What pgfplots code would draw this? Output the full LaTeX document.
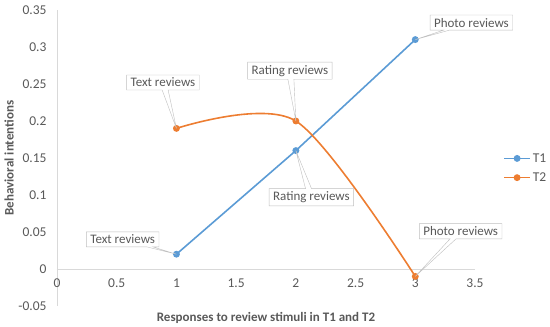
\documentclass[border=0pt]{standalone}
\usepackage{fontspec}
\setmainfont{Carlito}
\usepackage{pgfplots}
\pgfplotsset{compat=1.18}
\usetikzlibrary{shapes.callouts}
\definecolor{t1blue}{HTML}{5B9BD5}
\definecolor{t2orange}{HTML}{ED7D31}
\definecolor{txtgray}{HTML}{595959}
\definecolor{linegray}{HTML}{D9D9D9}
\definecolor{boxgray}{HTML}{BFBFBF}

\begin{document}
\begin{tikzpicture}[font=\fontsize{13}{15}\selectfont,
  lbl/.style={rectangle callout, draw=boxgray, fill=white, text=txtgray,
    inner xsep=4pt, inner ysep=3pt, callout pointer width=6pt}]
\begin{axis}[name=ax, scale only axis, width=418pt, height=296pt,
  xmin=0, xmax=3.5, ymin=-0.05, ymax=0.35,
  axis x line=middle, axis y line=left,
  axis line style={-, draw=linegray, line width=0.8pt},
  hide obscured x ticks=false, hide obscured y ticks=false,
  xtick={0,0.5,1,1.5,2,2.5,3,3.5},
  xticklabels={0,0.5,1,1.5,2,2.5,3,3.5},
  ytick={-0.05,0,0.05,0.1,0.15,0.2,0.25,0.3,0.35},
  yticklabels={-0.05,0,0.05,0.1,0.15,0.2,0.25,0.3,0.35},
  major tick length=0pt,
  tick label style={text=txtgray, font=\fontsize{13.5}{15}\selectfont},
  yticklabel style={xshift=-7pt},
  xticklabel style={yshift=-6pt},
  xlabel={\textbf{Responses to review stimuli in T1 and T2}},
  ylabel={\textbf{Behavioral intentions}},
  xlabel style={at={(axis description cs:0.5,0)}, anchor=center, yshift=-12pt, text=txtgray},
  ylabel style={at={(axis description cs:0,0.5)}, anchor=center, yshift=48pt, text=txtgray},
  legend style={at={(axis description cs:1.06,0.466)}, anchor=west, draw=none, fill=none,
    text=txtgray, font=\fontsize{13.5}{15}\selectfont, row sep=5pt},
  legend cell align=left,
  legend image code/.code={\draw[mark repeat=2, mark phase=2] plot coordinates {(0pt,0pt) (13pt,0pt) (26pt,0pt)};},
]
\addplot[t1blue, line width=1.6pt, mark=*, mark size=2.6pt] coordinates {
  (1,0.02) (2,0.16) (3,0.31)
};
\addplot[t2orange, line width=1.6pt, mark=*, mark size=2.6pt, smooth] coordinates {
  (1,0.19) (2,0.20) (3,-0.01)
};
\legend{T1,T2}
\coordinate (a1) at (axis cs:1,0.02);
\coordinate (a2) at (axis cs:2,0.16);
\coordinate (a3) at (axis cs:3,0.31);
\coordinate (b1) at (axis cs:1,0.19);
\coordinate (b2) at (axis cs:2,0.20);
\coordinate (b3) at (axis cs:3,-0.01);
\coordinate (la1) at (axis cs:0.55,0.040);
\coordinate (la2) at (axis cs:2.13,0.097);
\coordinate (la3) at (axis cs:3.47,0.333);
\coordinate (lb1) at (axis cs:0.887,0.252);
\coordinate (lb2) at (axis cs:1.95,0.268);
\coordinate (lb3) at (axis cs:3.38,0.051);
\end{axis}
\node[lbl, callout absolute pointer={(a1)}] at (la1) {Text reviews};
\node[lbl, callout absolute pointer={(a2)}] at (la2) {Rating reviews};
\node[lbl, callout absolute pointer={(a3)}] at (la3) {Photo reviews};
\node[lbl, callout absolute pointer={(b1)}] at (lb1) {Text reviews};
\node[lbl, callout absolute pointer={(b2)}] at (lb2) {Rating reviews};
\node[lbl, callout absolute pointer={(b3)}] at (lb3) {Photo reviews};
\pgfresetboundingbox
\path ([shift={(-57pt,-21pt)}]ax.south west) rectangle ([shift={(75pt,10pt)}]ax.north east);
\end{tikzpicture}
\end{document}
